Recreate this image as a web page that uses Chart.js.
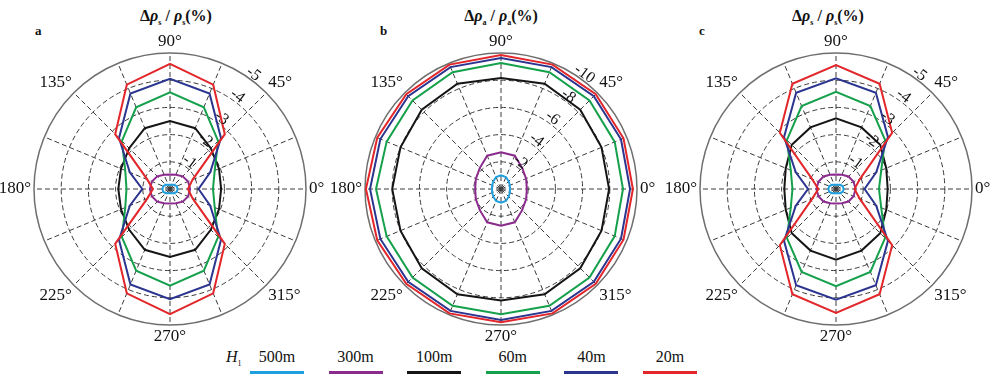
<!DOCTYPE html>
<html>
<head>
<meta charset="utf-8">
<script src="https://cdn.jsdelivr.net/npm/chart.js@4.4.0/dist/chart.umd.min.js"></script>
<style>
  body { margin: 0; width: 1000px; height: 382px; background: #fff; position: relative; overflow: hidden;
         font-family: 'Liberation Serif', 'Times New Roman', serif; color: #111; }
  .panel { position: absolute; top: 0; height: 345px; }
  .title { position: absolute; top: 7px; font-weight: bold; font-size: 16px; white-space: nowrap; transform: translateX(-50%); }
  .title sub { font-size: 8px; font-weight: bold; }
  .tag { position: absolute; top: 23px; font-weight: bold; font-size: 13px; }
  #legend { position: absolute; left: 0; top: 345px; width: 1000px; height: 37px; }
  .item { position: absolute; top: 3px; width: 54px; text-align: center; font-size: 16px; }
  .item .bar { height: 3px; margin-top: 5px; }
  .hlab { position: absolute; left: 226px; top: 3px; font-size: 16px; font-style: italic; }
  .hlab sub { font-size: 8px; font-style: normal; }
</style>
</head>
<body>

<div class="tag" style="left:35px">a</div>
<div class="tag" style="left:380px">b</div>
<div class="tag" style="left:699px">c</div>
<div class="title" style="left:176px">&Delta;<i>&rho;</i><sub>s</sub> / <i>&rho;</i><sub>s</sub>(%)</div>
<div class="title" style="left:501px">&Delta;<i>&rho;</i><sub>a</sub> / <i>&rho;</i><sub>a</sub>(%)</div>
<div class="title" style="left:828px">&Delta;<i>&rho;</i><sub>s</sub> / <i>&rho;</i><sub>s</sub>(%)</div>

<div class="panel" style="left:0px;width:340px"><canvas id="chartA"></canvas></div>
<div class="panel" style="left:331px;width:340px"><canvas id="chartB"></canvas></div>
<div class="panel" style="left:666px;width:334px"><canvas id="chartC"></canvas></div>

<div id="legend"><div class="hlab">H<sub>1</sub></div></div>

<script>
// azimuth of each sample, counterclockwise from 0°
const angles = [0, 22.5, 45, 67.5, 90, 112.5, 135, 157.5, 180, 202.5, 225, 247.5, 270, 292.5, 315, 337.5];

// burial depth of each curve and its colour
const depths = ['500m', '300m', '100m', '60m', '40m', '20m'];
const colors = ['#1e9fe0', '#8c2b8e', '#151515', '#15a04c', '#2b3590', '#e2262a'];

// ring labels
const ticksA = ['-1', '-2', '-3', '-4', '-5'];
const ticksB = ['-2', '-4', '-6', '-8', '-10'];
const ringsA = [1, 2, 3, 4, 5];
const ringsB = [2, 4, 6, 8, 10];

// panel a: |Δρ/ρ| in %
const a500 = [0.28, 0.27, 0.22, 0.17, 0.16, 0.17, 0.22, 0.27, 0.28, 0.27, 0.22, 0.17, 0.16, 0.17, 0.22, 0.27];
const a300 = [0.74, 0.72, 0.66, 0.57, 0.53, 0.57, 0.66, 0.72, 0.74, 0.72, 0.66, 0.57, 0.53, 0.57, 0.66, 0.72];
const a100 = [1.88, 1.95, 2.12, 2.42, 2.5, 2.42, 2.12, 1.95, 1.9, 1.95, 2.12, 2.42, 2.5, 2.42, 2.12, 1.95];
const a60 = [1.58, 1.78, 2.5, 3.25, 3.55, 3.25, 2.5, 1.78, 1.6, 1.78, 2.5, 3.25, 3.55, 3.25, 2.5, 1.78];
const a40 = [1.05, 1.6, 2.65, 3.8, 4.05, 3.8, 2.65, 1.6, 1.02, 1.6, 2.65, 3.8, 4.05, 3.8, 2.65, 1.6];
const a20 = [0.66, 0.9, 2.85, 4.15, 4.6, 4.15, 2.85, 0.9, 0.63, 0.9, 2.85, 4.15, 4.6, 4.15, 2.85, 0.9];

// panel b
const b500 = [0.66, 0.7, 0.8, 0.95, 1.0, 0.95, 0.8, 0.7, 0.66, 0.7, 0.8, 0.95, 1.0, 0.95, 0.8, 0.7];
const b300 = [1.9, 2.0, 2.2, 2.65, 2.7, 2.65, 2.2, 2.0, 1.9, 2.0, 2.2, 2.65, 2.7, 2.65, 2.2, 2.0];
const b100 = [7.95, 8.0, 8.24, 8.38, 8.16, 8.38, 8.24, 8.0, 8.0, 8.0, 8.24, 8.38, 8.2, 8.38, 8.24, 8.0];
const b60 = [8.97, 9.05, 9.2, 9.3, 9.26, 9.3, 9.2, 9.1, 9.19, 9.1, 9.2, 9.3, 9.2, 9.3, 9.2, 9.05];
const b40 = [9.49, 9.55, 9.65, 9.7, 9.63, 9.7, 9.65, 9.6, 9.63, 9.6, 9.65, 9.7, 9.63, 9.7, 9.65, 9.55];
const b20 = [9.7, 9.75, 9.85, 9.9, 9.85, 9.9, 9.85, 9.85, 9.93, 9.85, 9.85, 9.9, 9.8, 9.9, 9.85, 9.75];

// panel c
const c500 = [0.28, 0.27, 0.22, 0.17, 0.16, 0.17, 0.22, 0.27, 0.28, 0.27, 0.22, 0.17, 0.16, 0.17, 0.22, 0.27];
const c300 = [0.72, 0.7, 0.65, 0.57, 0.53, 0.57, 0.65, 0.7, 0.72, 0.7, 0.65, 0.57, 0.53, 0.57, 0.65, 0.7];
const c100 = [1.9, 2.0, 2.3, 2.45, 2.6, 2.45, 2.3, 2.0, 1.9, 2.0, 2.3, 2.45, 2.6, 2.45, 2.3, 2.0];
const c60 = [1.58, 1.8, 2.55, 3.3, 3.57, 3.3, 2.55, 1.8, 1.6, 1.8, 2.55, 3.3, 3.57, 3.3, 2.55, 1.8];
const c40 = [1.05, 1.6, 2.7, 3.83, 4.07, 3.83, 2.7, 1.6, 1.03, 1.6, 2.7, 3.83, 4.07, 3.83, 2.7, 1.6];
const c20 = [0.68, 0.95, 2.92, 4.19, 4.56, 4.19, 2.92, 0.95, 0.65, 0.95, 2.92, 4.19, 4.56, 4.19, 2.92, 0.95];

const serif = '"Liberation Serif", "Times New Roman", serif';

// radar goes clockwise from its start, data above is counterclockwise
function clockwise(arr) {
    return arr.map((v, i) => arr[(arr.length - i) % arr.length]);
}

// outer ring, azimuth labels and ring labels
const polarText = {
    id: 'polarText',
    beforeDatasetsDraw(chart) {
        const s = chart.scales.r;
        const ctx = chart.ctx;
        ctx.save();
        ctx.strokeStyle = '#6e6e6e';
        ctx.lineWidth = 1.5;
        ctx.setLineDash([]);
        ctx.beginPath();
        ctx.arc(s.xCenter, s.yCenter, s.drawingArea, 0, Math.PI * 2);
        ctx.stroke();
        ctx.restore();
    },
    afterDraw(chart, args, opts) {
        const s = chart.scales.r;
        const ctx = chart.ctx;
        const R = s.drawingArea;
        ctx.save();
        ctx.fillStyle = '#111';
        ctx.font = '17px ' + serif;
        chart.data.labels.forEach((lab, i) => {
            if (lab === '') return;
            const p = s.getPointPosition(i, R + 3);
            const dx = p.x - s.xCenter;
            const dy = p.y - s.yCenter;
            ctx.textAlign = Math.abs(dx) < 1 ? 'center' : (dx > 0 ? 'left' : 'right');
            ctx.textBaseline = Math.abs(dy) < 1 ? 'middle' : (dy < 0 ? 'bottom' : 'top');
            ctx.fillText(lab, p.x, p.y);
        });

        // ring labels sit along ~54° and follow the circle
        const th = 54 * Math.PI / 180;
        ctx.font = '16px ' + serif;
        ctx.textAlign = 'center';
        ctx.textBaseline = 'middle';
        opts.rings.forEach((v, i) => {
            const r = s.getDistanceFromCenterForValue(v) + 6;
            ctx.save();
            ctx.translate(s.xCenter + r * Math.cos(th), s.yCenter - r * Math.sin(th));
            ctx.rotate(Math.PI / 2 - th);
            ctx.fillText(opts.labels[i], 0, 0);
            ctx.restore();
        });
        ctx.restore();
    }
};

function makePolar(id, series, rings, ringLabels, pad) {
    const max = rings[rings.length - 1];
    const labels = clockwise(angles).map(a => (a % 45 === 0 ? a + '°' : ''));
    return new Chart(document.getElementById(id), {
        type: 'radar',
        data: {
            labels: labels,
            datasets: series.map((s, i) => ({
                label: depths[i],
                data: clockwise(s),
                borderColor: colors[i],
                borderWidth: 2,
                pointRadius: 0,
                fill: false,
                tension: 0,
                order: series.length - 1 - i
            }))
        },
        plugins: [polarText],
        options: {
            responsive: true,
            maintainAspectRatio: false,
            animation: false,
            devicePixelRatio: 1,
            events: [],
            layout: { padding: pad },
            plugins: {
                legend: { display: false },
                tooltip: { enabled: false },
                polarText: { rings: rings, labels: ringLabels }
            },
            scales: {
                r: {
                    min: 0,
                    max: max,
                    startAngle: 90,
                    ticks: { display: false, stepSize: rings[0] },
                    pointLabels: { display: false },
                    grid: {
                        circular: true,
                        lineWidth: 1,
                        color: c => (c.tick && c.tick.value >= max ? 'rgba(0,0,0,0)' : '#3a3a3a')
                    },
                    border: { dash: [5, 3] },
                    angleLines: { color: '#3a3a3a', lineWidth: 1, borderDash: [5, 3] }
                }
            }
        }
    });
}

makePolar('chartA', [a500, a300, a100, a60, a40, a20], ringsA, ticksA,
    { left: 34, right: 34, top: 53, bottom: 20 });
makePolar('chartB', [b500, b300, b100, b60, b40, b20], ringsB, ticksB,
    { left: 34, right: 34, top: 53, bottom: 20 });
makePolar('chartC', [c500, c300, c100, c60, c40, c20], ringsA, ticksA,
    { left: 34, right: 28, top: 53, bottom: 20 });

// legend: depth above a short coloured line
const legend = document.getElementById('legend');
depths.forEach((d, i) => {
    const item = document.createElement('div');
    item.className = 'item';
    item.style.left = (250 + i * 78.6) + 'px';
    item.innerHTML = d + '<div class="bar" style="background:' + colors[i] + '"></div>';
    legend.appendChild(item);
});
</script>
</body>
</html>
